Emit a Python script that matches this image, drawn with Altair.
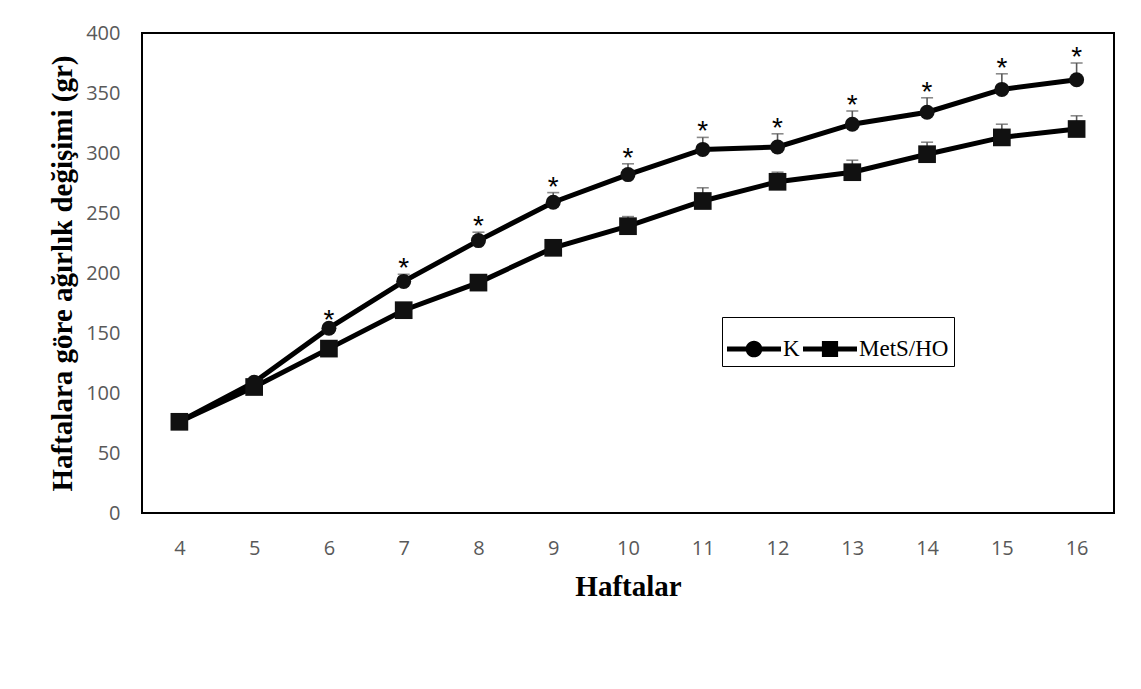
import altair as alt
import pandas as pd

weeks = [4, 5, 6, 7, 8, 9, 10, 11, 12, 13, 14, 15, 16]
series_names = ["K", "MetS/HO"]
k_values = [76, 109, 154, 193, 227, 259, 282, 303, 305, 324, 334, 353, 361]
k_errors = [1, 2, 2, 6, 7, 8, 9, 10, 11, 11, 12, 13, 14]
m_values = [76, 105, 137, 169, 192, 221, 239, 260, 276, 284, 299, 313, 320]
m_errors = [2, 3, 3, 4, 4, 5, 8, 11, 8, 10, 10, 11, 11]
k_significant = [0, 0, 1, 1, 1, 1, 1, 1, 1, 1, 1, 1, 1]
y_ticks = [0, 50, 100, 150, 200, 250, 300, 350, 400]

rows = []
for w, v, e, s in zip(weeks, k_values, k_errors, k_significant):
    rows.append({"week": w, "value": v, "err": e, "sig": s, "series": "K"})
for w, v, e in zip(weeks, m_values, m_errors):
    rows.append({"week": w, "value": v, "err": e, "sig": 0, "series": "MetS/HO"})
df = pd.DataFrame(rows)

x_enc = alt.X("week:Q", scale=alt.Scale(domain=[3.5, 16.5], nice=False, zero=False),
              axis=alt.Axis(values=weeks, title="Haftalar", format="d"))
y_enc = alt.Y("value:Q", scale=alt.Scale(domain=[0, 400], nice=False),
              axis=alt.Axis(values=y_ticks, title="Haftalara göre ağırlık değişimi (gr)"))

base = alt.Chart(df).transform_calculate(hi="datum.value + datum.err")

err_rule = base.mark_rule(color="#595959", strokeWidth=1.6).encode(
    x=x_enc, y=y_enc, y2="hi:Q")
err_cap = base.mark_tick(color="#595959", thickness=1.6, size=12, orient="horizontal").encode(
    x="week:Q", y="hi:Q")

lines = base.mark_line(color="black", strokeWidth=5).encode(
    x="week:Q", y="value:Q", detail="series:N")

points = base.mark_point(filled=True, opacity=1, color="#111111").encode(
    x="week:Q", y="value:Q",
    shape=alt.Shape("series:N", scale=alt.Scale(domain=series_names, range=["circle", "square"]), legend=None),
    size=alt.Size("series:N", scale=alt.Scale(domain=series_names, range=[225, 313]), legend=None),
)

stars = base.transform_filter("datum.sig == 1").mark_text(
    text="*", font="Liberation Sans", fontSize=28, color="black", baseline="alphabetic", dy=3
).encode(x="week:Q", y="hi:Q")

k_sym = ("M-1,-0.09 L-0.28,-0.09 L-0.28,0.09 L-1,0.09 Z "
         "M0.28,-0.09 L1,-0.09 L1,0.09 L0.28,0.09 Z "
         "M0.31,0 A0.31,0.31 0 1 1 -0.31,0 A0.31,0.31 0 1 1 0.31,0 Z")
m_sym = ("M-1,-0.09 L-0.3,-0.09 L-0.3,0.09 L-1,0.09 Z "
         "M0.3,-0.09 L1,-0.09 L1,0.09 L0.3,0.09 Z "
         "M-0.3,-0.3 L0.3,-0.3 L0.3,0.3 L-0.3,0.3 Z")

legend_layer = base.transform_filter("false").mark_point(filled=True, opacity=1, color="black").encode(
    x="week:Q", y="value:Q",
    shape=alt.Shape("series:N", scale=alt.Scale(domain=series_names, range=[k_sym, m_sym]),
                    legend=alt.Legend(
                        title=None, orient="none", legendX=580, legendY=284,
                        direction="horizontal", symbolSize=2916,
                        symbolFillColor="black", symbolStrokeWidth=0,
                        labelFont="Liberation Serif", labelFontSize=23, labelColor="black",
                        labelOffset=2, columnPadding=3, padding=5,
                        strokeColor="black",
                    )),
)

chart = alt.layer(err_rule, err_cap, lines, points, stars, legend_layer).resolve_scale(
    shape="independent", size="independent"
).properties(
    width=972, height=480,
    autosize=alt.AutoSizeParams(type="none"),
    padding={"left": 134, "top": 25, "right": 19, "bottom": 168},
).configure_view(
    stroke="black", strokeWidth=2
).configure_axis(
    domain=False, ticks=False, grid=False,
    labelFont="Open Sans", labelFontSize=20, labelColor="#595959",
    titleFont="Liberation Serif", titleFontSize=29, titleFontWeight="bold", titleColor="black",
).configure_axisX(
    labelPadding=25, titleX=486, titleY=82, titleBaseline="alphabetic", titleAlign="center",
).configure_axisY(
    labelPadding=22, titleX=-71, titleY=240, titleBaseline="alphabetic", titleAlign="center", titleAngle=-90,
)

chart.save("out.html", embed_options={"renderer": "svg", "actions": False})
